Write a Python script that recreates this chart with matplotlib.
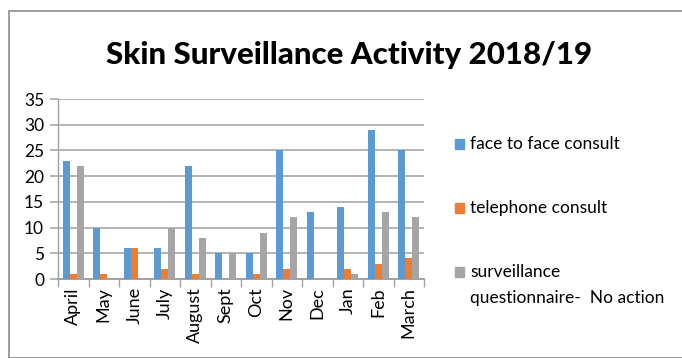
import matplotlib
matplotlib.use("Agg")
import matplotlib.pyplot as plt
from matplotlib.patches import Rectangle
import numpy as np

months = ["April", "May", "June", "July", "August", "Sept", "Oct", "Nov",
          "Dec", "Jan", "Feb", "March"]
face_to_face = [23, 10, 6, 6, 22, 5, 5, 25, 13, 14, 29, 25]
telephone = [1, 1, 6, 2, 1, 0, 1, 2, 0, 2, 3, 4]
questionnaire = [22, 0, 0, 10, 8, 5, 9, 12, 0, 1, 13, 12]
series_names = ["face to face consult", "telephone consult",
                "surveillance\nquestionnaire-  No action"]
colors = ["#5B9BD5", "#ED7D31", "#A5A5A5"]
y_ticks = [0, 5, 10, 15, 20, 25, 30, 35]

plt.rcParams["font.family"] = ["Lato", "DejaVu Sans"]

W, H = 682, 358
fig = plt.figure(figsize=(W / 100, H / 100), dpi=100)
fig.patch.set_facecolor("white")

# outer chart border
fig.patches.append(Rectangle((9 / W, 0), 1.0, 1 - 11 / H, transform=fig.transFigure,
                             fill=False, edgecolor="#8C8C8C", linewidth=1.2))

ax = fig.add_axes([58 / W, (H - 279) / H, 366 / W, 180 / H])
x = np.arange(len(months))
bw = 0.23
for i, (vals, col) in enumerate(zip([face_to_face, telephone, questionnaire], colors)):
    ax.bar(x + (i - 1) * bw, vals, width=bw, color=col, zorder=3)

ax.set_xlim(-0.5, len(months) - 0.5)
ax.set_ylim(0, 35)
ax.set_yticks(y_ticks)
ax.set_yticklabels([str(v) for v in y_ticks], fontsize=12.5)
ax.yaxis.grid(True, color="#B4B4B4", linewidth=1.4, zorder=0)
ax.set_axisbelow(True)

ax.set_xticks(np.arange(-0.5, len(months), 1.0))
ax.set_xticklabels([])
ax.set_xticks(x, minor=True)
ax.set_xticklabels(months, minor=True, rotation=90, fontsize=13)
ax.tick_params(axis="x", which="minor", length=0, pad=6)
ax.tick_params(axis="x", which="major", length=6, color="#A0A0A0", width=1)
ax.tick_params(axis="y", length=6, color="#B4B4B4", width=1.4, pad=4)

for s in ["top", "right"]:
    ax.spines[s].set_visible(False)
ax.spines["left"].set_color("#A0A0A0")
ax.spines["bottom"].set_color("#A0A0A0")
ax.spines["left"].set_linewidth(1)
ax.spines["bottom"].set_linewidth(1.4)

fig.text(349 / W, 1 - 55 / H, "Skin Surveillance Activity 2018/19",
         ha="center", va="center", fontsize=22.5, fontweight="black")

# legend entries: colour square followed by the series name
leg_y = [144, 208, 272]
for name, col, yy in zip(series_names, colors, leg_y):
    fig.patches.append(Rectangle((455 / W, 1 - (yy + 5) / H), 9 / W, 10 / H,
                                 transform=fig.transFigure, color=col))
    lines = name.split("\n")
    for k, line in enumerate(lines):
        fig.text(470 / W, 1 - (yy + 26 * k) / H, line, ha="left", va="center",
                 fontsize=12.5)

fig.savefig("out.png", dpi=100)
